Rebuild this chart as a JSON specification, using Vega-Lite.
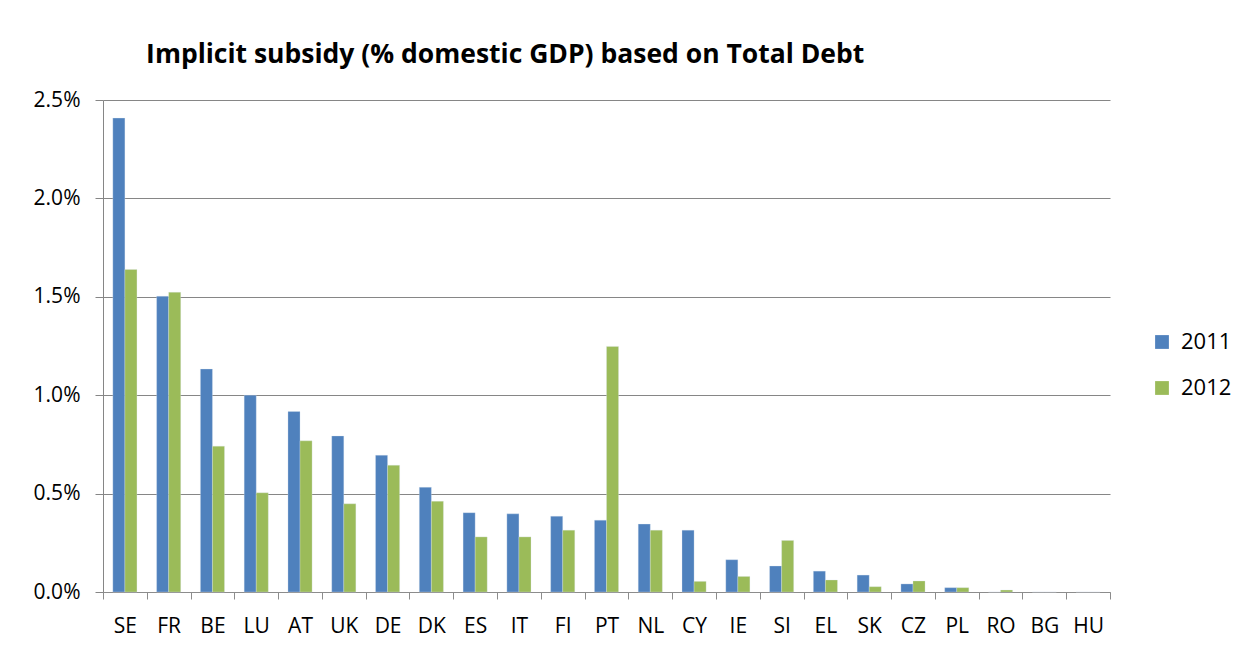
{
  "$schema": "https://vega.github.io/schema/vega-lite/v6.json",
  "width": 1007,
  "height": 492,
  "autosize": "none",
  "padding": {"left": 103, "top": 100, "right": 144, "bottom": 61},
  "background": "white",
  "title": {
    "text": "Implicit subsidy (% domestic GDP) based on Total Debt",
    "anchor": "start",
    "dx": 113,
    "offset": 21,
    "font": "Open Sans",
    "fontSize": 26.5,
    "fontWeight": "bold",
    "color": "#000000"
  },
  "data": {
    "values": [
      {"country": "SE", "year": "2011", "value": 0.02408},
      {"country": "SE", "year": "2012", "value": 0.01639},
      {"country": "FR", "year": "2011", "value": 0.01503},
      {"country": "FR", "year": "2012", "value": 0.01523},
      {"country": "BE", "year": "2011", "value": 0.01133},
      {"country": "BE", "year": "2012", "value": 0.00741},
      {"country": "LU", "year": "2011", "value": 0.01000},
      {"country": "LU", "year": "2012", "value": 0.00504},
      {"country": "AT", "year": "2011", "value": 0.00917},
      {"country": "AT", "year": "2012", "value": 0.00768},
      {"country": "UK", "year": "2011", "value": 0.00793},
      {"country": "UK", "year": "2012", "value": 0.00448},
      {"country": "DE", "year": "2011", "value": 0.00695},
      {"country": "DE", "year": "2012", "value": 0.00644},
      {"country": "DK", "year": "2011", "value": 0.00532},
      {"country": "DK", "year": "2012", "value": 0.00461},
      {"country": "ES", "year": "2011", "value": 0.00403},
      {"country": "ES", "year": "2012", "value": 0.00280},
      {"country": "IT", "year": "2011", "value": 0.00397},
      {"country": "IT", "year": "2012", "value": 0.00280},
      {"country": "FI", "year": "2011", "value": 0.00385},
      {"country": "FI", "year": "2012", "value": 0.00314},
      {"country": "PT", "year": "2011", "value": 0.00365},
      {"country": "PT", "year": "2012", "value": 0.01248},
      {"country": "NL", "year": "2011", "value": 0.00345},
      {"country": "NL", "year": "2012", "value": 0.00314},
      {"country": "CY", "year": "2011", "value": 0.00314},
      {"country": "CY", "year": "2012", "value": 0.00054},
      {"country": "IE", "year": "2011", "value": 0.00164},
      {"country": "IE", "year": "2012", "value": 0.00079},
      {"country": "SI", "year": "2011", "value": 0.00132},
      {"country": "SI", "year": "2012", "value": 0.00262},
      {"country": "EL", "year": "2011", "value": 0.00106},
      {"country": "EL", "year": "2012", "value": 0.00061},
      {"country": "SK", "year": "2011", "value": 0.00086},
      {"country": "SK", "year": "2012", "value": 0.00027},
      {"country": "CZ", "year": "2011", "value": 0.00041},
      {"country": "CZ", "year": "2012", "value": 0.00056},
      {"country": "PL", "year": "2011", "value": 0.00022},
      {"country": "PL", "year": "2012", "value": 0.00022},
      {"country": "RO", "year": "2011", "value": 0.0},
      {"country": "RO", "year": "2012", "value": 0.0001},
      {"country": "BG", "year": "2011", "value": 0.0},
      {"country": "BG", "year": "2012", "value": 0.0},
      {"country": "HU", "year": "2011", "value": 0.0},
      {"country": "HU", "year": "2012", "value": 0.0}
    ]
  },
  "mark": {"type": "bar", "stroke": "#dce6f2", "strokeWidth": 0.5, "strokeOpacity": 0.6},
  "encoding": {
    "x": {
      "field": "country",
      "type": "nominal",
      "sort": null,
      "scale": {"paddingInner": 0, "paddingOuter": 0},
      "axis": {
        "title": null,
        "labelAngle": 0,
        "tickBand": "extent",
        "tickSize": 7,
        "tickColor": "#8c8c8c",
        "domainColor": "#8c8c8c",
        "labelPadding": 16,
        "labelFont": "Open Sans",
        "labelFontSize": 21,
        "labelColor": "#000000",
        "grid": false
      }
    },
    "xOffset": {
      "field": "year",
      "type": "nominal",
      "scale": {"paddingInner": 0, "paddingOuter": 0.816}
    },
    "y": {
      "field": "value",
      "type": "quantitative",
      "scale": {"domain": [0, 0.025], "nice": false},
      "axis": {
        "title": null,
        "values": [0, 0.005, 0.01, 0.015, 0.02, 0.025],
        "format": ".1%",
        "grid": true,
        "gridColor": "#868686",
        "gridWidth": 1.2,
        "tickSize": 8,
        "tickColor": "#868686",
        "domainColor": "#868686",
        "labelPadding": 15,
        "labelFont": "Open Sans",
        "labelFontSize": 21,
        "labelColor": "#000000"
      }
    },
    "color": {
      "field": "year",
      "type": "nominal",
      "scale": {"domain": ["2011", "2012"], "range": ["#4f81bd", "#9bbb59"]},
      "legend": {
        "title": null,
        "orient": "none",
        "legendX": 1048,
        "legendY": 231,
        "symbolType": "square",
        "symbolSize": 190,
        "symbolStrokeWidth": 0,
        "labelFont": "Open Sans",
        "labelFontSize": 22,
        "labelColor": "#000000",
        "labelOffset": 8,
        "rowPadding": 24
      }
    }
  },
  "config": {
    "view": {"stroke": null}
  }
}
